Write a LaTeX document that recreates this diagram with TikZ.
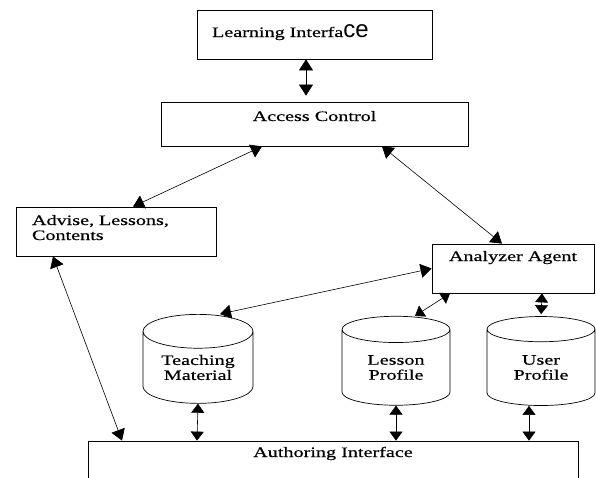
\documentclass[tikz,border=0pt]{standalone}
\usepackage{fontspec}
\setmainfont{Liberation Serif}[FakeStretch=1.4,FakeBold=0.5]
\newfontfamily\cefont{Liberation Sans}
\usetikzlibrary{arrows.meta,shapes.geometric}

\begin{document}
\begin{tikzpicture}[x=1pt,y=-1pt,
  box/.style={draw, line width=0.8pt, inner sep=0pt, font=\fontsize{14.4}{15}\selectfont},
  store/.style={cylinder, shape border rotate=90, draw, line width=0.7pt, aspect=0.46,
    minimum width=110pt, minimum height=89pt, inner sep=0pt, align=center,
    font=\fontsize{14.4}{15}\selectfont},
  link/.style={{Triangle[length=11pt,width=14pt]}-{Triangle[length=11pt,width=14pt]}, line width=0.6pt},
  short/.style={{Triangle[length=9pt,width=13pt]}-{Triangle[length=9pt,width=13pt]}, line width=0.6pt}]
\useasboundingbox (0,0) rectangle (596,477);
\clip (0,0) rectangle (596,477);

\node[box, minimum width=235pt, minimum height=49pt, text width=205pt, align=left,
  text height=27pt, text depth=22pt] (learn) at (314.5,34.5)
  {Learning Interfa{\cefont\fontsize{24}{24}\selectfont ce}};
\node[box, minimum width=307pt, minimum height=44pt, text height=19pt, text depth=25pt]
  (access) at (314.5,124) {Access Control};
\node[box, minimum width=200pt, minimum height=49pt, text width=168pt, align=left,
  text height=18pt, text depth=31pt] (advise) at (116,231.5) {Advise, Lessons,\\Contents};
\node[box, minimum width=162pt, minimum height=49pt, text height=17pt, text depth=32pt]
  (analyzer) at (513,268.5) {Analyzer Agent};
\node[store] (teach) at (198,367.5) {Teaching\\Material};
\node[store, minimum width=108pt] (lesson) at (396,367.5) {Lesson\\Profile};
\node[store, minimum width=108pt] (user) at (541,367.5) {User\\Profile};
\node[box, minimum width=490pt, minimum height=48pt, text height=16pt, text depth=32pt]
  (author) at (333,465) {Authoring Interface};

\draw[link, shorten >=6pt] ([xshift=-8.5pt]learn.south) -- ([xshift=-8.5pt]access.north);
\draw[link] ([xshift=-52.5pt]access.south) -- ([xshift=17pt]advise.north);
\draw[link] ([xshift=67.5pt]access.south) -- ([xshift=-11pt]analyzer.north);
\draw[link] ([xshift=-63pt]advise.south) -- ([xshift=-211pt]author.north);
\draw[link] (analyzer.west) -- ([xshift=22pt]teach.north);
\draw[short] ([xshift=-63pt]analyzer.south) -- ([xshift=19pt]lesson.north);
\draw[short, shorten >=2pt] ([xshift=29pt]analyzer.south) -- (user.north);
\draw[short] (teach.south) -- ([xshift=-136pt]author.north);
\draw[short] (lesson.south) -- ([xshift=63pt]author.north);
\draw[short] ([xshift=-12pt]user.south) -- ([xshift=196pt]author.north);
\end{tikzpicture}
\end{document}
